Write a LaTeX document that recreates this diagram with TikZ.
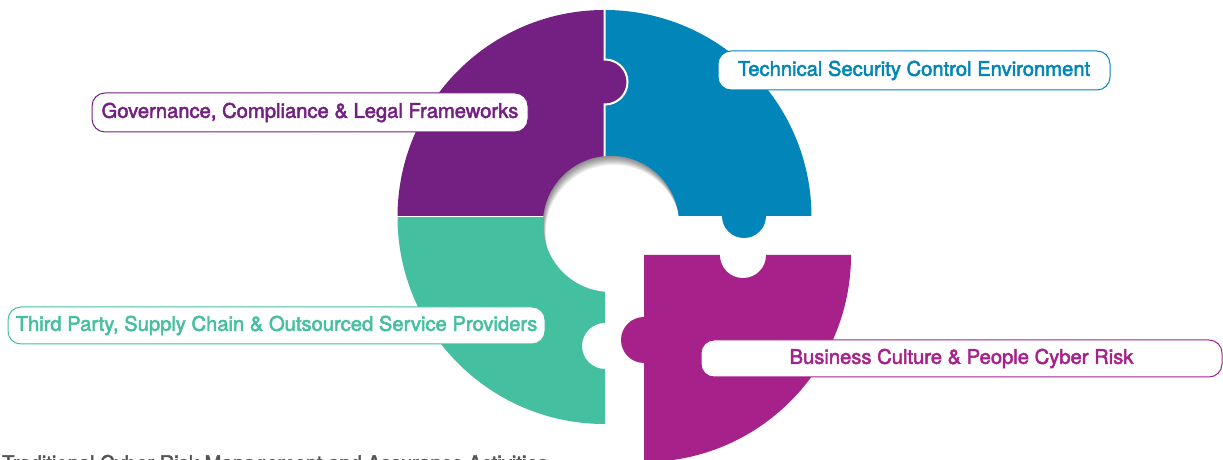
\documentclass[tikz,border=0pt]{standalone}
\usepackage{fontspec}
\newfontfamily\lblfont{TeX Gyre Heros}[FakeBold=2.4]
\definecolor{cpurple}{RGB}{116,32,130}
\definecolor{cblue}{RGB}{2,133,185}
\definecolor{cteal}{RGB}{68,191,160}
\definecolor{cmag}{RGB}{167,33,138}
\definecolor{cgray}{RGB}{85,85,85}
\tikzset{
  lab/.style={draw=#1, fill=white, rounded corners=13pt, line width=1pt,
    text=#1, inner sep=0pt, font=\lblfont\fontsize{20.2}{23}\selectfont},
}
\begin{document}
\begin{tikzpicture}[x=1pt,y=1pt]
\useasboundingbox (0,0) rectangle (1223,460);
\begin{scope}
\clip (0,0) rectangle (1223,460);
% blue quadrant
\begin{scope}
\clip (605.5,244.5) rectangle (820,460);
\fill[cblue] (604.5,243) circle (207);
\end{scope}
% purple knob
\fill[cpurple, draw=white, line width=2pt] (605,378) circle (22.5);
% purple quadrant
\begin{scope}
\clip (390,244) rectangle (603.5,460);
\fill[cpurple] (604.5,243) circle (207);
\end{scope}
% teal quadrant
\begin{scope}
\clip (390,30) rectangle (605,242);
\fill[cteal, even odd rule] (604.5,243) circle (207) (605,114) circle (23);
\end{scope}
% hole
\fill[white] (611,236) circle (68);
\begin{scope}
\clip (611,236) circle (68);
\foreach \d in {1,...,9}
  \fill[black, opacity=0.06, even odd rule] (611,236) circle (70) ({611+0.3*\d},{236-1.0*\d}) circle (68);
\end{scope}
% magenta piece
\fill[cmag] (644,205) -- (851,205) arc[start angle=0, end angle=-90, radius=207] -- cycle;
\fill[white] (743,205) circle (23);
\fill[cmag] (644,120) circle (23);
% blue knob
\fill[cblue] (744,244) circle (22);
% labels
\node[lab=cpurple, minimum width=436pt, minimum height=39pt] (gov) at (310,347.5) {Governance, Compliance \& Legal Frameworks};
\node[lab=cblue, minimum width=392pt, minimum height=39pt] (tech) at (914,389.5) {Technical Security Control Environment};
\node[lab=cteal, minimum width=537pt, minimum height=37pt] (third) at (276.5,134.5) {Third Party, Supply Chain \& Outsourced Service Providers};
\node[lab=cmag, minimum width=521pt, minimum height=37pt] (biz) at (961.5,101.5) {Business Culture \& People Cyber Risk};
% footer (cut off at the lower edge, as in the reference)
\node[anchor=base west, inner sep=0pt, text=cgray, font=\lblfont\fontsize{20.2}{23}\selectfont] (foot) at (2,-10) {Traditional Cyber Risk Management and Assurance Activities};
\end{scope}
\end{tikzpicture}
\end{document}
